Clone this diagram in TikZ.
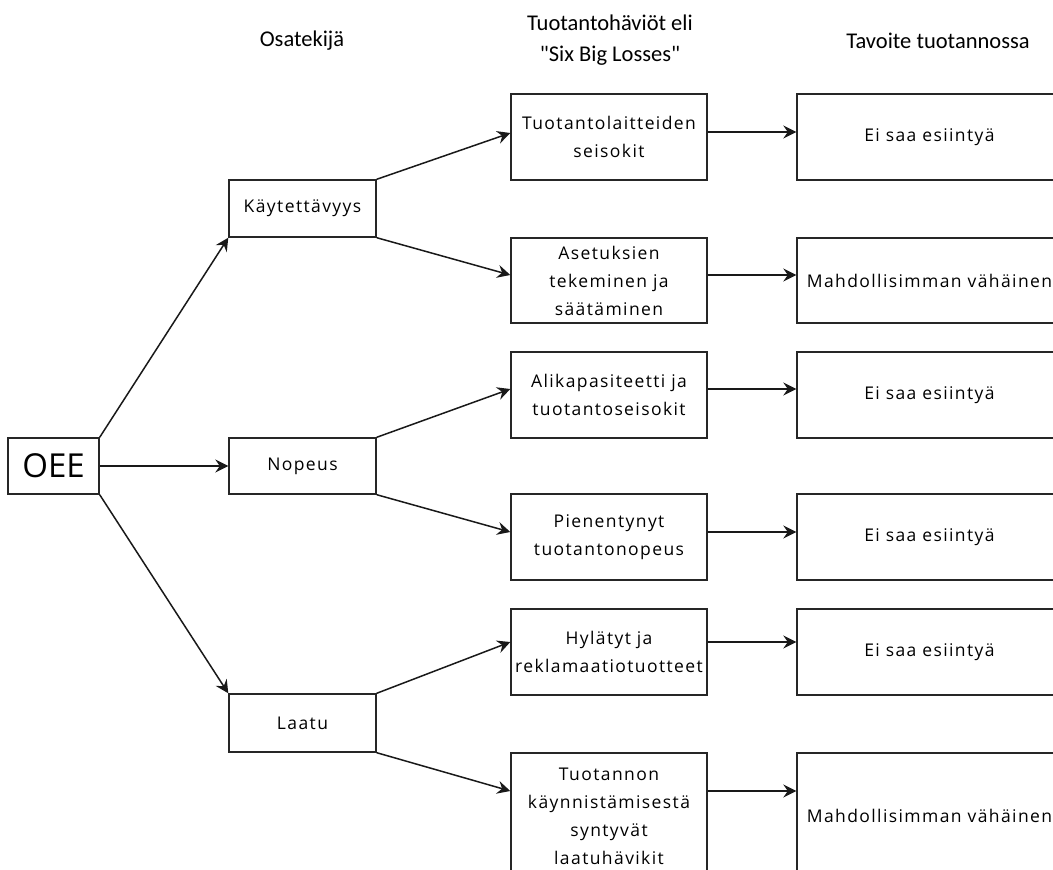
\documentclass[tikz,border=0pt]{standalone}
\usepackage{fontspec}
\setmainfont{Open Sans}[LetterSpace=8]
\newfontfamily\hdrfont{Carlito}
\newfontfamily\bigfont{Open Sans}
\usetikzlibrary{arrows.meta}
\begin{document}
\begin{tikzpicture}[x=1pt,y=-1pt,
  box/.style={draw=black!85, line width=1.4pt, inner sep=0pt, align=center,
    font=\fontsize{17.5}{28}\selectfont},
  lbox/.style={box, minimum width=147pt, minimum height=57pt},
  mbox/.style={box, minimum width=196pt, minimum height=86pt},
  rbox/.style={box, minimum width=265pt, minimum height=86pt},
  arr/.style={draw=black!90, line width=1.5pt, -{Stealth[length=13pt,width=13pt,inset=4.5pt]}},
  hd/.style={font=\hdrfont\fontsize{22.5}{31}\selectfont, align=center, inner sep=0pt}]
\useasboundingbox (0,0) rectangle (1053,870);
\clip (0,0) rectangle (1053,870);

% headers
\node[hd] (h1) at (302,41) {Osatekijä};
\node[hd] (h2) at (610,40) {Tuotantohäviöt eli\\"Six Big Losses"};
\node[hd] (h3) at (938,41) {Tavoite tuotannossa};

% left
\node[box, minimum width=91pt, minimum height=56pt, font=\bigfont\fontsize{33}{36}\selectfont] (oee) at (53.5,466) {OEE};
\node[lbox] (kay) at (302.5,208.5) {Käytettävyys};
\node[lbox, minimum height=56pt] (nop) at (302.5,466) {Nopeus};
\node[lbox, minimum height=58pt] (laa) at (302.5,723) {Laatu};

% middle
\node[mbox] (m1) at (609,137) {Tuotantolaitteiden\\seisokit};
\node[mbox, minimum height=85pt] (m2) at (609,280.5) {Asetuksien\\tekeminen ja\\säätäminen};
\node[mbox] (m3) at (609,395) {Alikapasiteetti ja\\tuotantoseisokit};
\node[mbox] (m4) at (609,537) {Pienentynyt\\tuotantonopeus};
\node[mbox] (m5) at (609,652) {Hylätyt ja\\reklamaatiotuotteet};
\node[mbox, minimum height=126pt] (m6) at (609,816) {Tuotannon\\käynnistämisestä\\syntyvät\\laatuhävikit};

% right
\node[rbox] (r1) at (929.5,137) {Ei saa esiintyä};
\node[rbox, minimum height=85pt] (r2) at (929.5,280.5) {Mahdollisimman vähäinen};
\node[rbox] (r3) at (929.5,395) {Ei saa esiintyä};
\node[rbox] (r4) at (929.5,537) {Ei saa esiintyä};
\node[rbox] (r5) at (929.5,652) {Ei saa esiintyä};
\node[rbox, minimum height=126pt] (r6) at (929.5,816) {Mahdollisimman vähäinen};

% OEE arrows
\draw[arr] (oee.north east) -- (kay.south west);
\draw[arr] (oee.east) -- (nop.west);
\draw[arr] (oee.south east) -- (laa.north west);

% left to middle
\draw[arr] (kay.north east) -- (m1.west |- 0,133);
\draw[arr] (kay.south east) -- (m2.west |- 0,275);
\draw[arr] (nop.north east) -- (m3.west |- 0,389);
\draw[arr] (nop.south east) -- (m4.west |- 0,532);
\draw[arr] (laa.north east) -- (m5.west |- 0,642);
\draw[arr] (laa.south east) -- (m6.west |- 0,791);

% middle to right
\draw[arr] (m1.east |- 0,132) -- (r1.west |- 0,132);
\draw[arr] (m2.east |- 0,275) -- (r2.west |- 0,275);
\draw[arr] (m3.east |- 0,389) -- (r3.west |- 0,389);
\draw[arr] (m4.east |- 0,532) -- (r4.west |- 0,532);
\draw[arr] (m5.east |- 0,642) -- (r5.west |- 0,642);
\draw[arr] (m6.east |- 0,791) -- (r6.west |- 0,791);
\end{tikzpicture}
\end{document}
